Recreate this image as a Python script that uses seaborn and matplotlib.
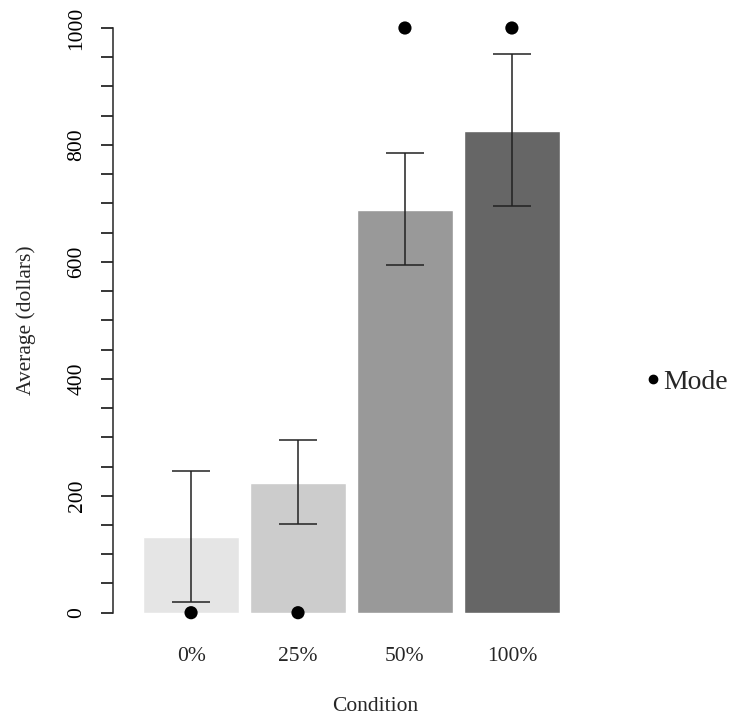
import pandas as pd
import numpy as np
import matplotlib
matplotlib.use('Agg')
import matplotlib.pyplot as plt
import seaborn as sns
from matplotlib.lines import Line2D

conditions = ['0%', '25%', '50%', '100%']
averages = [129, 222, 689, 823]
err_low = [18, 152, 594, 695]
err_high = [243, 296, 787, 956]
modes = [0, 0, 1000, 1000]
bar_colors = ['#e5e5e5', '#cccccc', '#999999', '#666666']

df = pd.DataFrame({'Condition': conditions, 'Average': averages, 'Mode': modes})

sns.set_style('ticks')
plt.rcParams['font.family'] = ['Liberation Serif', 'DejaVu Serif']

fig = plt.figure(figsize=(7.29, 7.19), dpi=100)
ax = fig.add_axes([113 / 729, 106.3 / 719, 524 / 729, 584.7 / 719])

sns.barplot(data=df, x='Condition', y='Average', hue='Condition', palette=bar_colors,
            order=conditions, width=0.9, errorbar=None, legend=False, ax=ax)

# error bars
x = np.arange(len(conditions))
yerr = [np.array(averages) - np.array(err_low), np.array(err_high) - np.array(averages)]
ax.errorbar(x, averages, yerr=yerr, fmt='none', ecolor='#222222', elinewidth=1.1,
            capsize=14, capthick=1.1, zorder=4)

# modes
sns.scatterplot(data=df, x='Condition', y='Mode', color='black', s=90, edgecolor='none',
                ax=ax, zorder=5, clip_on=False, legend=False)

ax.set_xlim(-0.73, 4.17)
ax.set_ylim(0, 1000)
ax.set_yticks(np.arange(0, 1001, 50), minor=False)
ax.set_yticklabels([str(v) if v % 200 == 0 else '' for v in range(0, 1001, 50)],
                   rotation=90, va='center', fontsize=15.5)
ax.tick_params(axis='y', length=9, width=1.1, pad=10, colors='black')
ax.tick_params(axis='x', length=0, pad=25, labelsize=15.5)
ax.set_xticks(x)
ax.set_xticklabels(conditions)

sns.despine(ax=ax, bottom=True)
ax.spines['left'].set_bounds(0, 1000)
ax.spines['left'].set_linewidth(1.1)

ax.set_xlabel('Condition', fontsize=15.5, labelpad=22)
ax.set_ylabel('Average (dollars)', fontsize=15.5, labelpad=23)

handle = Line2D([], [], marker='o', color='black', linestyle='none', markersize=6)
fig.legend([handle], ['Mode'], loc='center left', bbox_to_anchor=(647 / 729, 1 - 382 / 719),
           frameon=False, fontsize=20, handletextpad=0.15, handlelength=0.45, borderpad=0,
           borderaxespad=0)

fig.savefig('out.png', dpi=100)
